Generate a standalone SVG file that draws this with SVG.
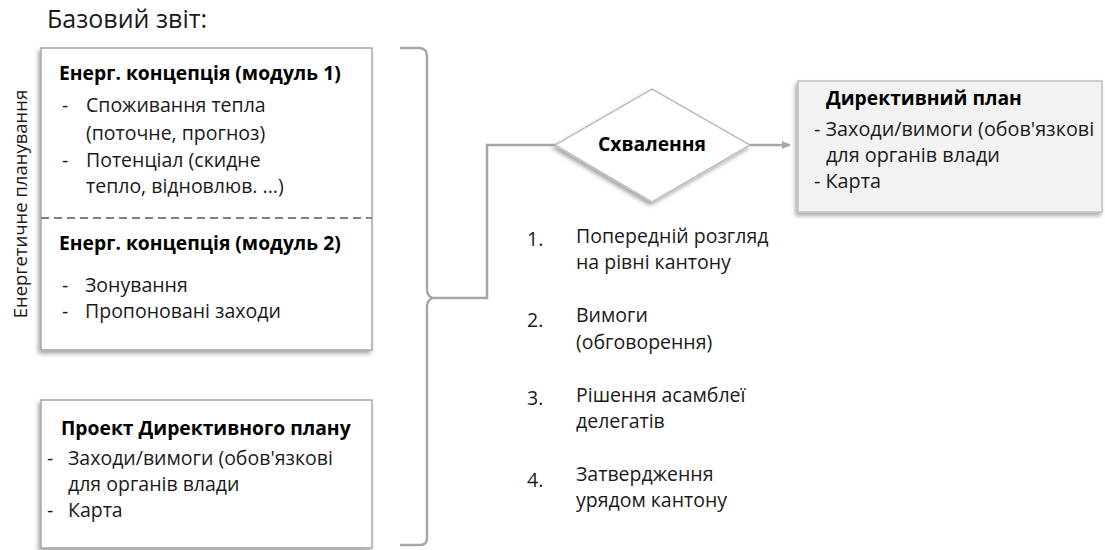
<svg xmlns="http://www.w3.org/2000/svg" width="1105" height="550" viewBox="0 0 1105 550">
<style>
text{font-family:"Open Sans","Noto Sans","DejaVu Sans",sans-serif;font-size:19.5px;fill:#1a1a1a}
.b{font-weight:bold;fill:#000;font-size:19.3px}
.r{font-size:19.8px}
.box{fill:#fff;stroke:#a6a6a6;stroke-width:1.5}
.gbox{fill:#f2f2f2;stroke:#bfbfbf;stroke-width:1.5}
.ln{fill:none;stroke:#a6a6a6;stroke-width:2.5}
</style>
<defs>
<filter id="sh" x="-10%" y="-10%" width="120%" height="125%">
<feDropShadow dx="-2" dy="3" stdDeviation="2" flood-color="#000" flood-opacity="0.35"/>
</filter>
<marker id="ar" markerWidth="10" markerHeight="10" refX="8" refY="5" orient="auto" markerUnits="userSpaceOnUse">
<path d="M0,1 L9,5 L0,9 z" fill="#a6a6a6"/>
</marker>
</defs>
<text x="47" y="28" style="font-size:25px">Базовий звіт:</text>
<text transform="translate(27,204) rotate(-90)" text-anchor="middle" style="font-size:18.5px">Енергетичне планування</text>
<g id="concept">
<rect class="box" x="41" y="48" width="331" height="302" filter="url(#sh)"/>
<line x1="41" y1="218" x2="372" y2="218" stroke="#808080" stroke-width="2" stroke-dasharray="8,5"/>
<text class="b" x="59" y="80">Енерг. концепція (модуль 1)</text>
<text x="62" y="112">-</text><text x="86" y="112">Споживання тепла</text>
<text x="86" y="140">(поточне, прогноз)</text>
<text x="62" y="167">-</text><text x="86" y="167">Потенціал (скидне</text>
<text x="86" y="193">тепло, відновлюв. ...)</text>
<text class="b" x="59" y="250">Енерг. концепція (модуль 2)</text>
<text x="62" y="292">-</text><text x="85" y="292">Зонування</text>
<text x="62" y="318">-</text><text x="85" y="318">Пропоновані заходи</text>
</g>
<g id="draft">
<rect class="box" x="41" y="400" width="331" height="148" filter="url(#sh)"/>
<text class="b" x="61" y="435">Проект Директивного плану</text>
<text x="47" y="465">-</text><text x="68" y="465">Заходи/вимоги (обов'язкові</text>
<text x="68" y="491">для органів влади</text>
<text x="47" y="517">-</text><text x="68" y="517">Карта</text>
</g>
<g id="approval">
<polygon points="652,89 750,145 652,202 555,145" fill="#fff" stroke="#bfbfbf" stroke-width="1.5" filter="url(#sh)"/>
<text class="b" x="652" y="151" text-anchor="middle">Схвалення</text>
</g>
<g id="plan">
<rect class="gbox" x="798" y="81" width="304" height="131" filter="url(#sh)"/>
<text class="b" x="826" y="105">Директивний план</text>
<text class="r" x="814" y="136">- Заходи/вимоги (обов'язкові</text>
<text class="r" x="826" y="162">для органів влади</text>
<text class="r" x="814" y="188">- Карта</text>
</g>
<g id="steps">
<text x="527" y="246">1.</text><text x="576" y="243">Попередній розгляд</text><text x="576" y="269">на рівні кантону</text>
<text x="527" y="327">2.</text><text x="576" y="322">Вимоги</text><text x="576" y="349">(обговорення)</text>
<text x="527" y="405">3.</text><text x="576" y="402">Рішення асамблеї</text><text x="576" y="428">делегатів</text>
<text x="527" y="487">4.</text><text x="576" y="481">Затвердження</text><text x="576" y="507">урядом кантону</text>
</g>
<g id="connectors">
<path class="ln" d="M400,48 L420,48 Q427,49 427,56 L427,290 Q427,295 432,298 Q427,301 427,306 L427,538 Q427,545 420,545 L400,545"/>
<path class="ln" d="M432,298 L487,298 L487,145 L555,145"/>
<path class="ln" d="M750,145 L790,145" marker-end="url(#ar)"/>
</g>
</svg>
